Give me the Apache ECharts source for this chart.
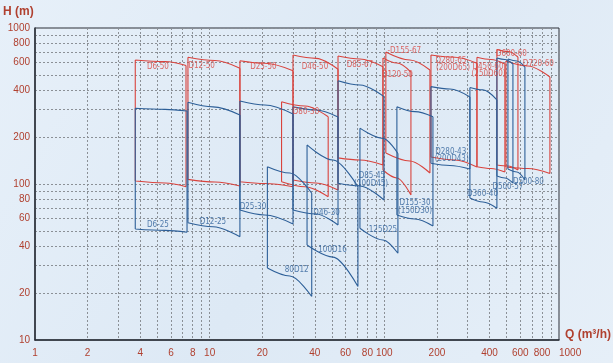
<!DOCTYPE html>
<html>
<head>
<meta charset="utf-8">
<script src="https://cdn.jsdelivr.net/npm/echarts@6/dist/echarts.min.js"></script>
<style>
html,body{margin:0;padding:0;}
#c{width:613px;height:363px;}
</style>
</head>
<body>
<div id="c"></div>
<script>
// ---- axis tick data ----
const xLabelValues = [1, 2, 4, 6, 8, 10, 20, 40, 60, 80, 100, 200, 400, 600, 800, 999.99];
const xGridValues = [1,2,3,4,5,6,7,8,9,10,20,30,40,50,60,70,80,90,100,200,300,400,500,600,700,800,900,999.99];
const yLabelValues = [10, 20, 40, 60, 80, 100, 200, 400, 600, 800, 999.99];
const yGridValues = [10,20,30,40,50,60,70,80,90,100,200,300,400,500,600,700,800,900,999.99];

// ---- pump models: Q (m3/h) at left / middle / right, head H (m) on top and bottom curves ----
const modelNames = ['D6-50','D6-25','D12-50','D12-25','D25-50','D25-30','D46-50','D46-30','D80-30','80D12',
  '100D16','D85-67','D85-45','125D25','D120-50','D155-67','D155-30','D280-65','D280-43','D360-40',
  'D450-60','D600-60','D500-57','D500-80','D720-60'];
const modelKind = ['r','b','r','b','r','b','r','b','r','b',
  'b','r','b','b','r','r','b','r','b','b',
  'r','r','b','b','r'];
const qPoints = [
  [3.75,5.55,7.32],[3.75,5.55,7.42],[7.51,10.72,14.9],[7.51,10.44,14.9],[14.9,20.7,30.0],
  [14.9,20.7,30.0],[30.0,40.6,54.3],[30.0,40.6,54.3],[25.8,35.1,47.7],[21.4,28.8,38.4],
  [36.1,50.8,70.6],[54.3,72.5,98.2],[54.3,72.5,99.5],[72.5,98.2,119.6],[98.2,118,142],
  [102,140,182.4],[118,149.7,189.8],[184.9,253.6,339],[184.9,237.4,309],[309,366.8,441],
  [339,407.6,490],[441,510,582],[441,490,544.8],[510,574,638],[496.6,664,887]
];
const topHeads = [
  [624,610,575],[306,301,294],[649,619,552],[334,312,277],[617,594,532],
  [340,321,281],[671,639,544],[312,298,269],[337,316,270],[129.1,117.6,87.2],
  [178,142.5,96.1],[661,633,565],[459,431,363],[228,196,157],[642,596,522],
  [702,624,538],[313,291,270],[671,649,594],[421,406,361],[416,401,346],
  [649,628,588],[728,707,652],[642,628,588],[633,614,562],[614,571,485]
];
const bottomHeads = [
  [104.5,101.5,96.1],[51.5,50.4,49],[107,103,97.1],[56.5,53.2,45.9],[103.4,100.7,96.1],
  [68.1,63.3,55.4],[106.1,101.5,91.5],[68.1,64.2,54.6],[103.4,96.1,82.9],[28.9,25.7,19],
  [40.6,34,22],[147,142.5,132.4],[101,97.1,79],[52,43.8,36],[122.9,109.3,85],
  [158,140.5,117.6],[63.3,59.7,53.8],[149,142.5,128.5],[135.8,131.4,124.8],[81.3,76.7,69.9],
  [129.1,125.7,119.4],[132.4,130.5,122.9],[112.5,109.3,101.5],[124.8,119.4,106.1],[128.5,125.7,116.8]
];

// ---- text annotations (anchor in data units) ----
const labelTexts = ['D6-50','D6-25','D12-50','D12-25','D25-50','D25-30','D46-50','D80-30','D46-30','80D12',
  '100D16','D85-67','D85-45','(100D45)','125D25','D120-50','-D155-67','D155-30','(150D30)','D280-65',
  '(200D65)','D280-43','(200D43)','D360-40','D450-60','(250D60)','D600-60','D720-60','D500-57','D500-80'];
const labelQ = [5.06,5.06,9.0,10.44,20.3,17.7,40.1,35.6,46.7,31.5,
  50.5,72.5,84.9,84,98.2,118.8,130,149.7,150,240.6,
  247,240,243,364.5,392,395,534,762,510,668];
const labelH = [565,54.6,571,57.3,565,71.5,565,288,65.5,28.1,
  37.8,579,112.5,100,50.7,500,715,75.5,67.1,617,
  552,161,144,86.3,565,505,681,588,95.7,103.4];
const labelKind = ['r','b','r','b','r','b','r','r','b','b',
  'b','r','b','b','b','r','r','b','b','r',
  'r','b','b','b','r','r','r','r','b','b'];

const RED = '#d9433d';
const BLUE = '#2d5f98';
const AXIS_TXT = '#b0402f';

const series = [];
modelNames.forEach((name, i) => {
  const q = qPoints[i], t = topHeads[i], b = bottomHeads[i];
  const data = [];
  for (let k = 0; k < 3; k++) data.push([q[k], t[k]]);
  data.push('-');
  for (let k = 0; k < 3; k++) data.push([q[k], b[k]]);
  data.push('-');
  data.push([q[0], t[0]], [q[0], b[0]]);
  data.push('-');
  data.push([q[2], t[2]], [q[2], b[2]]);
  series.push({
    name: name,
    type: 'line',
    data: data,
    smooth: 0.35,
    smoothMonotone: 'x',
    showSymbol: false,
    connectNulls: false,
    silent: true,
    lineStyle: { color: modelKind[i] === 'r' ? RED : BLUE, width: 1.1 },
    z: modelKind[i] === 'r' ? 3 : 4
  });
});

['r','b'].forEach(kind => {
  const data = [];
  labelTexts.forEach((txt, i) => {
    if (labelKind[i] === kind) data.push({ name: txt, value: [labelQ[i], labelH[i]] });
  });
  series.push({
    type: 'scatter',
    data: data,
    symbolSize: 0,
    silent: true,
    z: 10,
    label: {
      show: true,
      position: 'inside',
      formatter: p => p.name,
      color: kind === 'r' ? RED : BLUE,
      fontSize: 8,
      fontFamily: 'Liberation Sans Narrow, DejaVu Sans Condensed, sans-serif'
    }
  });
});

const chart = echarts.init(document.getElementById('c'), null, { renderer: 'canvas' });
chart.setOption({
  animation: false,
  backgroundColor: {
    type: 'linear', x: 0, y: 0, x2: 1, y2: 1,
    colorStops: [{ offset: 0, color: '#e7f0f9' }, { offset: 0.5, color: '#dde9f5' }, { offset: 1, color: '#e6eff8' }]
  },
  grid: { left: 35, right: 54, top: 28, bottom: 23, show: true, borderColor: '#2a2f38', borderWidth: 1, backgroundColor: 'transparent' },
  xAxis: {
    type: 'log', logBase: 10, min: 1, max: 1000,
    axisLine: { show: true, onZero: false, lineStyle: { color: '#2a2f38', width: 1.5 } },
    axisTick: { show: false, customValues: xGridValues },
    axisLabel: {
      customValues: xLabelValues, color: AXIS_TXT, fontSize: 10, margin: 8,
      fontFamily: 'Liberation Sans, Arial, sans-serif',
      hideOverlap: false, showMaxLabel: true, alignMaxLabel: 'left',
      formatter: v => String(Math.round(v))
    },
    splitLine: { show: true, lineStyle: { color: '#8b9096', type: [2, 2], width: 1 } },
    minorSplitLine: { show: false }
  },
  yAxis: {
    type: 'log', logBase: 10, min: 10, max: 1000,
    axisLine: { show: true, onZero: false, lineStyle: { color: '#2a2f38', width: 1.5 } },
    axisTick: { show: false, customValues: yGridValues },
    axisLabel: {
      customValues: yLabelValues, color: AXIS_TXT, fontSize: 10, margin: 5,
      fontFamily: 'Liberation Sans, Arial, sans-serif',
      hideOverlap: false,
      formatter: v => String(Math.round(v))
    },
    splitLine: { show: true, lineStyle: { color: '#8b9096', type: [2, 2], width: 1 } }
  },
  graphic: [
    { type: 'text', left: 3, top: 6, style: { text: 'H (m)', fill: AXIS_TXT, font: 'bold 12px Liberation Sans, Arial, sans-serif' } },
    { type: 'text', left: 565, top: 329, style: { text: 'Q (m³/h)', fill: AXIS_TXT, font: 'bold 12px Liberation Sans, Arial, sans-serif' } }
  ],
  series: series
});
</script>
</body>
</html>
